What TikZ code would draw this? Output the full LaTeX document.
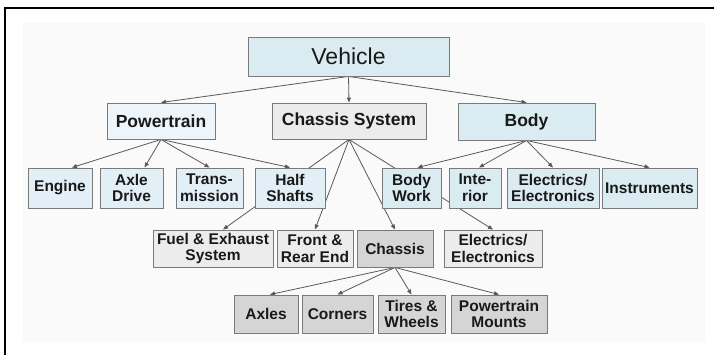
\documentclass[tikz,border=0pt]{standalone}
\usepackage{fontspec}
\setmainfont{Liberation Sans}
\usetikzlibrary{
    arrows.meta,
}
\pgfdeclarelayer{panel}
\pgfdeclarelayer{wires}
\pgfsetlayers{panel,wires,main}

\definecolor{topblue}{HTML}{DAECF2}
\definecolor{paleblue}{HTML}{EDF5FA}
\definecolor{rowblue}{HTML}{E2EFF6}
\definecolor{lightgray}{HTML}{ECECEC}
\definecolor{darkgray}{HTML}{D5D5D5}
\definecolor{edgegray}{HTML}{7A7A7A}

\tikzset{
  box/.style={draw=edgegray,line width=0.9pt,inner sep=0pt,align=center,
    text=black!90,font=\fontsize{15.5}{16.8}\selectfont\bfseries},
  head/.style={box,font=\fontsize{17.5}{19}\selectfont\bfseries},
  wire/.style={draw=black!65,line width=0.8pt,-{Triangle[length=5pt,width=4pt]}},
}

\begin{document}
\begin{tikzpicture}[x=1pt,y=-1pt]
  \useasboundingbox (0,0) rectangle (714,355);
  \begin{pgfonlayer}{panel}
    \fill[white] (0,0) rectangle (714,355);
    \fill[black!2] (23,23) rectangle (705,342);
    \draw[line width=1.4pt] (5,355) -- (5,8) -- (714,8);
  \end{pgfonlayer}

  \node[box,fill=topblue,minimum width=201pt,minimum height=39pt,
        font=\fontsize{23}{26}\selectfont] (vehicle) at (348.5,56.5) {Vehicle};

  \node[head,fill=paleblue, minimum width=108pt,minimum height=36pt] (powertrain) at (161,121)   {Powertrain};
  \node[head,fill=lightgray,minimum width=154pt,minimum height=36pt] (system)     at (349,121)   {Chassis System};
  \node[head,fill=topblue,  minimum width=137pt,minimum height=37pt] (body)       at (526.5,121.5) {Body};

  \node[box,fill=rowblue,minimum width=64pt,minimum height=40pt] (engine)   at (60,188)    {Engine};
  \node[box,fill=rowblue,minimum width=63pt,minimum height=40pt] (axle)     at (131.5,188) {Axle\\Drive};
  \node[box,fill=rowblue,minimum width=67pt,minimum height=40pt] (trans)    at (209.5,188) {Trans-\\mission};
  \node[box,fill=rowblue,minimum width=70pt,minimum height=40pt] (half)     at (290,188)   {Half\\Shafts};
  \node[box,fill=topblue,minimum width=59pt,minimum height=40pt] (work)     at (411.5,188) {Body\\Work};
  \node[box,fill=topblue,minimum width=52pt,minimum height=40pt] (interior) at (475,188)   {Inte-\\rior};
  \node[box,fill=topblue,minimum width=92pt,minimum height=40pt] (elec)     at (553,188)   {Electrics/\\Electronics};
  \node[box,fill=topblue,minimum width=95pt,minimum height=40pt] (instr)    at (649.5,188) {Instruments};

  \node[box,fill=lightgray,minimum width=120pt,minimum height=37pt] (fuel)    at (213,248.5) {Fuel \& Exhaust\\System};
  \node[box,fill=lightgray,minimum width=76pt, minimum height=37pt] (front)   at (315,248.5) {Front \&\\Rear End};
  \node[box,fill=darkgray, minimum width=76pt, minimum height=37pt] (chassis) at (395,248.5) {Chassis};
  \node[box,fill=lightgray,minimum width=98pt, minimum height=37pt] (elecb)   at (493,248.5) {Electrics/\\Electronics};

  \node[box,fill=darkgray,minimum width=64pt,minimum height=38pt] (axles)   at (266,314)   {Axles};
  \node[box,fill=darkgray,minimum width=71pt,minimum height=38pt] (corners) at (337.5,314) {Corners};
  \node[box,fill=darkgray,minimum width=67pt,minimum height=38pt] (tires)   at (411.5,314) {Tires \&\\Wheels};
  \node[box,fill=darkgray,minimum width=96pt,minimum height=38pt] (mounts)  at (499,314)   {Powertrain\\Mounts};

  \begin{pgfonlayer}{wires}
    \draw[wire] (vehicle.south) -- (powertrain.north);
    \draw[wire] (vehicle.south) -- (system.north);
    \draw[wire] (vehicle.south) -- (body.north);

    \draw[wire] (powertrain.south) -- ([xshift=12pt]engine.north);
    \draw[wire] (powertrain.south) -- ([xshift=13pt]axle.north);
    \draw[wire] (powertrain.south) -- (trans.north);
    \draw[wire] (powertrain.south) -- (half.north);

    \draw[wire] (system.south) -- ([xshift=10pt]fuel.north);
    \draw[wire] (system.south) -- (front.north);
    \draw[wire] (system.south) -- (chassis.north);
    \draw[wire] (system.south) -- (elecb.north);

    \draw[wire] (body.south) -- ([xshift=6pt]work.north);
    \draw[wire] (body.south) -- ([xshift=4pt]interior.north);
    \draw[wire] (body.south) -- (elec.north);
    \draw[wire] (body.south) -- (instr.north);

    \draw[wire] (chassis.south) -- ([xshift=4pt]axles.north);
    \draw[wire] (chassis.south) -- (corners.north);
    \draw[wire] (chassis.south) -- (tires.north);
    \draw[wire] (chassis.south) -- (mounts.north);
  \end{pgfonlayer}
\end{tikzpicture}
\end{document}
